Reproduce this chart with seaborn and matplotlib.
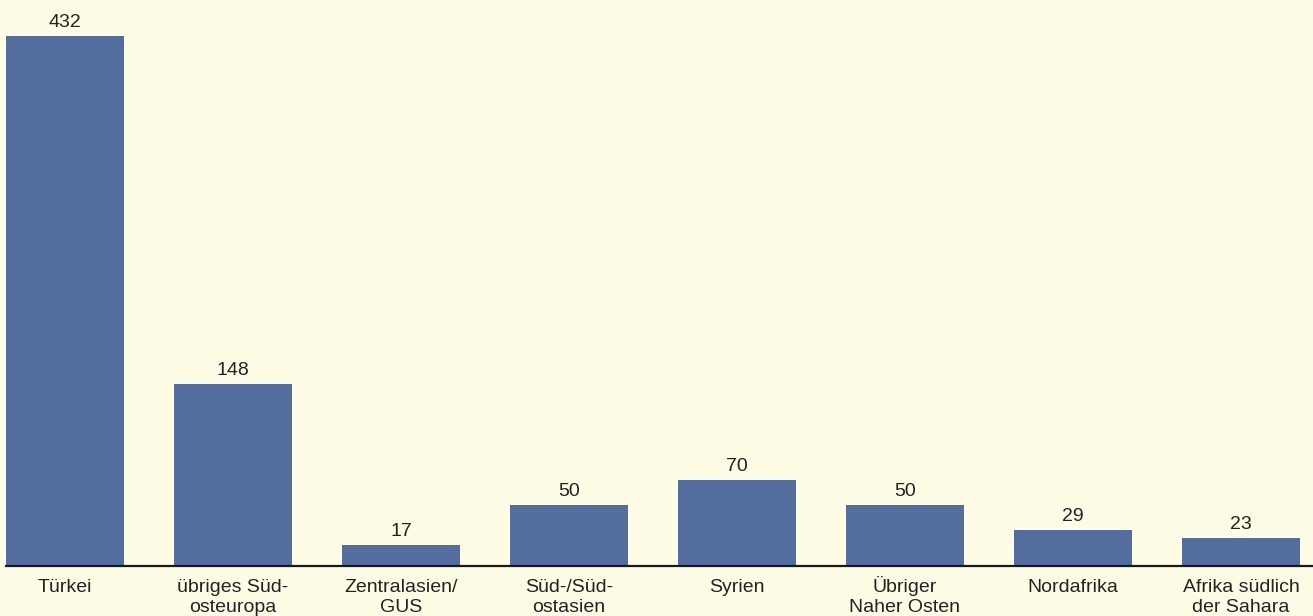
import matplotlib
matplotlib.use("Agg")
import matplotlib.pyplot as plt
import matplotlib.transforms as mtransforms
import seaborn as sns
import pandas as pd

categories = ["Türkei", "übriges Süd-\nosteuropa", "Zentralasien/\nGUS", "Süd-/Süd-\nostasien",
              "Syrien", "Übriger\nNaher Osten", "Nordafrika", "Afrika südlich\nder Sahara"]
values = [432, 148, 17, 50, 70, 50, 29, 23]

sns.set_theme(style="white")
plt.rcParams['font.family'] = ['Liberation Sans', 'DejaVu Sans']

bg = "#FFFCE6"
bar_color = "#536E9E"
text_color = "#222222"
fs = 14

fig = plt.figure(figsize=(13.13, 6.16), dpi=100, facecolor=bg)
ax = fig.add_axes([6/1313, 50/616, 1307/1313, 566/616])
ax.set_facecolor(bg)

df = pd.DataFrame({"cat": categories, "val": values})
sns.barplot(data=df, x="cat", y="val", color=bar_color, saturation=1, width=0.702,
            linewidth=0, ax=ax)

for i, v in enumerate(values):
    ax.annotate(str(v), (i, v), xytext=(0, 9), textcoords="offset pixels",
                ha="center", va="baseline", fontsize=fs, color=text_color)

ax.set_xlim(-0.351, 7.429)
ax.set_ylim(0, 461.3)
ax.set_xlabel("")
ax.set_ylabel("")
ax.set_yticks([])
ax.tick_params(axis="x", length=0, labelbottom=False)

# category labels: first-line baseline 26 px below axis, 19.5 px line pitch
for i, lab in enumerate(categories):
    for j, line in enumerate(lab.split("\n")):
        dy = (26 + 19.5 * j) / 100.0
        tr = ax.get_xaxis_transform() + mtransforms.ScaledTranslation(0, -dy, fig.dpi_scale_trans)
        ax.text(i, 0, line, transform=tr, ha="center", va="baseline",
                fontsize=fs, color=text_color, clip_on=False)

for s in ["top", "right", "left"]:
    ax.spines[s].set_visible(False)
ax.spines["bottom"].set_color("#1a1a1a")
ax.spines["bottom"].set_linewidth(1.6)

fig.savefig("out.png", dpi=100, facecolor=bg)
